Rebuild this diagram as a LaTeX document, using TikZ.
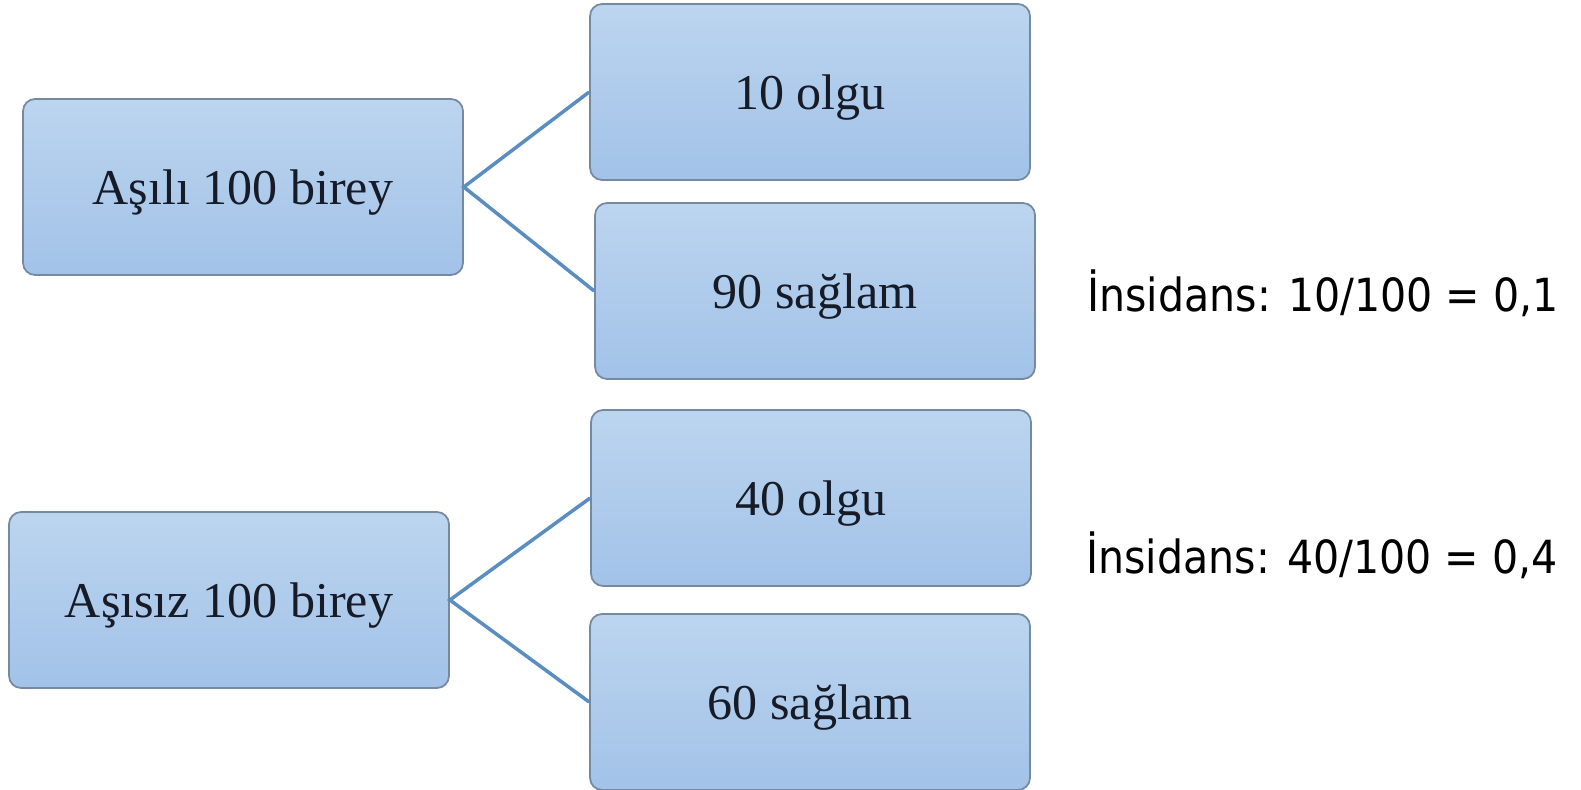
\documentclass[tikz,border=0pt]{standalone}
\usepackage{fontspec}
\setmainfont{Liberation Serif}
\newfontfamily\ratefont{DejaVu Sans}[FakeStretch=0.9]
\usepackage{tikz}
\definecolor{boxtop}{HTML}{BCD5EF}
\definecolor{boxbot}{HTML}{A2C2E8}
\definecolor{boxline}{HTML}{7689A3}
\definecolor{linkblue}{HTML}{5A8DC0}
\definecolor{ink}{HTML}{161B27}
\tikzset{
  x=0.02cm, y=-0.02cm,
  box/.style={draw=boxline, line width=1pt, rounded corners=0.24cm,
    top color=boxtop, bottom color=boxbot,
    minimum width=8.8cm, minimum height=3.52cm, text depth=0pt,
    text=ink, font=\fontsize{28.5}{34}\selectfont},
  link/.style={draw=linkblue, line width=2pt},
  rate/.style={font=\ratefont\fontsize{26}{31}\selectfont, text=black},
}

\begin{document}
\begin{tikzpicture}
      \useasboundingbox (0,0) rectangle (1581,790);

      \node[box] (asili)  at (243,187)   {Aşılı 100 birey};
      \node[box] (o10)    at (810,92)    {10 olgu};
      \node[box] (s90)    at (815,291)   {90 sağlam};
      \node[box] (asisiz) at (229,600)   {Aşısız 100 birey};
      \node[box] (o40)    at (811,498)   {40 olgu};
      \node[box] (s60)    at (810,702)   {60 sağlam};

      \node[rate] (ins1) at (1323,293) {İnsidans: 10/100 = 0,1};
      \node[rate] (ins2) at (1322,555) {İnsidans: 40/100 = 0,4};

      \draw[link] (o10.west) -- (asili.east) -- (s90.west);
      \draw[link] (o40.west) -- (asisiz.east) -- (s60.west);
\end{tikzpicture}
\end{document}
